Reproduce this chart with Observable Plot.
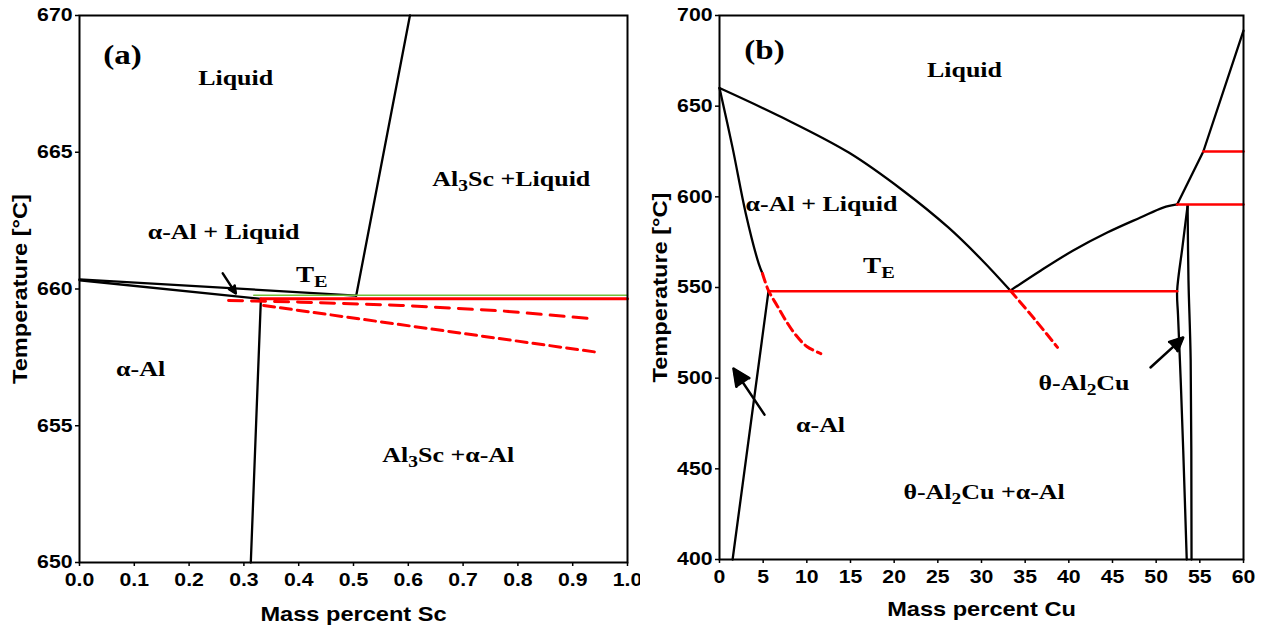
<!DOCTYPE html>
<html><head><meta charset="utf-8">
<script src="https://cdn.jsdelivr.net/npm/d3@7"></script>
<script src="https://cdn.jsdelivr.net/npm/@observablehq/plot@0.6"></script>
<style>
html,body{margin:0;padding:0;background:#fff;}
#wrap{display:flex;width:1275px;height:629px;overflow:hidden;background:#fff;}
#wrap svg{display:block;flex:none;}
</style></head><body><div id="wrap"></div>
<script>
// ---------- tick labels ----------
const scTicks = [0, 0.1, 0.2, 0.3, 0.4, 0.5, 0.6, 0.7, 0.8, 0.9, 1.0];
const tempTicksA = [650, 655, 660, 665, 670];
const cuTicks = [0, 5, 10, 15, 20, 25, 30, 35, 40, 45, 50, 55, 60];
const tempTicksB = [400, 450, 500, 550, 600, 650, 700];

// ---------- panel (a): Al-Sc  [mass % Sc, T °C] ----------
const scLiquidusAl = [[0, 660.35], [0.505, 659.76]];
const scSolidusAl = [[0, 660.32], [0.331, 659.64]];
const scLiquidusAl3Sc = [[0.505, 659.76], [0.603, 670]];
const scSolvus = [[0.331, 659.64], [0.3126, 650]];
const scEutecticGreen = [[0.318, 659.77], [1.0, 659.77]];
const scEutecticRed = [[0.331, 659.64], [1.0, 659.64]];
const scMetaUpper = [[0.272, 659.58], [0.404, 659.52], [0.587, 659.40], [0.77, 659.20], [0.931, 658.92]];
const scMetaLower = [[0.336, 659.40], [0.947, 657.68]];
const scArrows = [{x1: 0.2614, y1: 660.57, x2: 0.2852, y2: 659.84}];
const scTag = [{x: 0.0786, y: 668.54, text: "(a)"}];
const scRegions = [
  {x: 0.285, y: 667.7, text: "Liquid"},
  {x: 0.263, y: 662.07, text: "α-Al + Liquid"},
  {x: 0.788, y: 664.04, text: "Al_{3}Sc +Liquid"},
  {x: 0.1115, y: 657.06, text: "α-Al"},
  {x: 0.673, y: 653.93, text: "Al_{3}Sc +α-Al"}
];
const scTE = [{x: 0.424, y: 660.51, text: "T_{E}"}];

// ---------- panel (b): Al-Cu  [mass % Cu, T °C] ----------
const cuLiquidusAl = [[0, 660], [7.2, 643.7], [14.8, 624.4], [21.0, 603.5], [26.2, 583.1], [30.1, 564.9], [33.3, 548.3]];
const cuSolidusAl = [[0, 660], [1.5, 627], [3.0, 591], [4.5, 563], [4.92, 557.7]];
const cuSolvusAl = [[5.61, 548], [1.5, 400]];
const cuMetaSolidus = [[4.92, 557.7], [5.61, 548.3], [6.6, 540], [7.5, 532.5], [8.7, 524], [10.0, 517.5], [11.6, 513.5]];
const cuEutectic = [[5.61, 548], [52.4, 548]];
const cuMetaLiquidus = [[33.3, 548.3], [36.0, 533], [38.7, 517]];
const cuLiquidusTheta = [[33.3, 548.3], [36.8, 559.4], [40.5, 570.4], [44.4, 580.3], [48.2, 588.6], [50.8, 594.1], [52.4, 595.8]];
const cuLiquidusRight = [[52.4, 595.8], [55.4, 625], [60, 691.7]];
const cuPeritectic1 = [[52.4, 595.8], [60, 595.8]];
const cuPeritectic2 = [[55.4, 625], [60, 625]];
const cuThetaLeft = [[53.6, 595.2], [53.0, 572], [52.4, 548], [52.5, 535], [52.8, 500], [53.1, 460], [53.5, 400]];
const cuThetaRight = [[53.6, 595.2], [53.7, 554], [53.95, 510], [54.05, 400]];
const cuArrows = [
  {x1: 5.15, y1: 479.9, x2: 1.6, y2: 505.3},
  {x1: 49.35, y1: 505.9, x2: 53.1, y2: 522.4}
];
const cuTag = [{x: 5.15, y: 680.7, text: "(b)"}];
const cuRegions = [
  {x: 28.05, y: 669.7, text: "Liquid"},
  {x: 11.68, y: 596, text: "α-Al + Liquid"},
  {x: 11.57, y: 474.4, text: "α-Al"},
  {x: 41.74, y: 497.6, text: "θ-Al_{2}Cu"},
  {x: 30.3, y: 437.5, text: "θ-Al_{2}Cu +α-Al"}
];
const cuTE = [{x: 18.26, y: 562.1, text: "T_{E}"}];

// ---------- styling ----------
const SANS = "Liberation Sans, Arial, Helvetica, sans-serif";
const SERIF = "Liberation Serif, Times New Roman, serif";
const RED = "#ff0000";
const STRETCH = 1.18;

function axes(xTicks, yTicks, xFmt, xTitle, titleDy) {
  return [
    Plot.axisX({ticks: xTicks, tickFormat: xFmt, tickSize: 4, tickPadding: 7, fontSize: 18, fontWeight: "bold", strokeWidth: 1.5, label: null}),
    Plot.axisY({ticks: yTicks, tickFormat: d => String(d), tickSize: 4, tickPadding: 3, fontSize: 18, fontWeight: "bold", strokeWidth: 1.5, label: null}),
    Plot.text([xTitle], {frameAnchor: "bottom", textAnchor: "middle", lineAnchor: "bottom", dy: titleDy, fontSize: 20, fontWeight: "bold", fontFamily: SANS}),
    Plot.text(["Temperature [°C]"], {frameAnchor: "left", textAnchor: "middle", rotate: -90, dx: -59, fontSize: 20, fontWeight: "bold", fontFamily: SANS})
  ];
}
function labels(tag, regions, te) {
  return [
    Plot.text(tag, {x: "x", y: "y", text: "text", fontFamily: SERIF, fontWeight: "bold", fontSize: 28}),
    Plot.text(regions, {x: "x", y: "y", text: "text", fontFamily: SERIF, fontWeight: "bold", fontSize: 22}),
    Plot.text(te, {x: "x", y: "y", text: "text", fontFamily: SERIF, fontWeight: "bold", fontSize: 23})
  ];
}
const blk = {stroke: "black", strokeWidth: 2.3};
const blkCurve = {stroke: "black", strokeWidth: 2.3, curve: "catmull-rom"};

const plotA = Plot.plot({
  width: 640, height: 629,
  marginLeft: 79, marginRight: 13, marginTop: 15, marginBottom: 67,
  x: {domain: [0, 1]}, y: {domain: [650, 670]},
  style: {fontFamily: SANS, fontWeight: "bold", background: "white", color: "black", overflow: "visible"},
  marks: [
    ...axes(scTicks, tempTicksA, d3.format(".1f"), "Mass percent Sc", 58),
    Plot.line(scLiquidusAl, blk),
    Plot.line(scSolidusAl, blk),
    Plot.line(scLiquidusAl3Sc, blk),
    Plot.line(scSolvus, blk),
    Plot.line(scEutecticGreen, {stroke: "#72c03c", strokeWidth: 1.5}),
    Plot.line(scEutecticRed, {stroke: RED, strokeWidth: 3}),
    Plot.line(scMetaUpper, {stroke: RED, strokeWidth: 3, strokeDasharray: "14,9"}),
    Plot.line(scMetaLower, {stroke: RED, strokeWidth: 3, strokeDasharray: "11,6"}),
    Plot.arrow(scArrows, {x1: "x1", y1: "y1", x2: "x2", y2: "y2", stroke: "black", strokeWidth: 2.5, headLength: 11, headAngle: 50}),
    ...labels(scTag, scRegions, scTE),
    Plot.frame({stroke: "black", strokeWidth: 2})
  ]
});

const plotB = Plot.plot({
  width: 635, height: 629,
  marginLeft: 79, marginRight: 32, marginTop: 15, marginBottom: 70,
  x: {domain: [0, 60]}, y: {domain: [400, 700]},
  style: {fontFamily: SANS, fontWeight: "bold", background: "white", color: "black", overflow: "visible"},
  marks: [
    ...axes(cuTicks, tempTicksB, d => String(d), "Mass percent Cu", 56),
    Plot.line(cuLiquidusAl, blkCurve),
    Plot.line(cuSolidusAl, blkCurve),
    Plot.line(cuSolvusAl, blk),
    Plot.line(cuLiquidusTheta, blkCurve),
    Plot.line(cuLiquidusRight, blk),
    Plot.line(cuThetaLeft, blkCurve),
    Plot.line(cuThetaRight, blkCurve),
    Plot.line(cuEutectic, {stroke: RED, strokeWidth: 2.5}),
    Plot.line(cuPeritectic1, {stroke: RED, strokeWidth: 2.5}),
    Plot.line(cuPeritectic2, {stroke: RED, strokeWidth: 2.5}),
    Plot.line(cuMetaSolidus, {stroke: RED, strokeWidth: 3, strokeDasharray: "9,5", curve: "catmull-rom"}),
    Plot.line(cuMetaLiquidus, {stroke: RED, strokeWidth: 3, strokeDasharray: "9,5", curve: "catmull-rom"}),
    Plot.arrow(cuArrows, {x1: "x1", y1: "y1", x2: "x2", y2: "y2", stroke: "black", strokeWidth: 2.5, headLength: 12, headAngle: 50}),
    ...labels(cuTag, cuRegions, cuTE),
    Plot.frame({stroke: "black", strokeWidth: 2})
  ]
});

const NS = "http://www.w3.org/2000/svg";
function subscripts(svg) {
  svg.querySelectorAll("text").forEach(t => {
    if (t.children.length) return;
    const s = t.textContent;
    if (!s.includes("_{")) return;
    t.textContent = "";
    const re = /_\{([^}]*)\}/g;
    let last = 0, m, lowered = false;
    const add = (txt, sub) => {
      const ts = document.createElementNS(NS, "tspan");
      ts.textContent = txt;
      if (sub) { ts.setAttribute("font-size", "0.75em"); ts.setAttribute("dy", "5"); }
      else if (lowered) ts.setAttribute("dy", "-5");
      lowered = sub;
      t.appendChild(ts);
    };
    while ((m = re.exec(s))) {
      if (m.index > last) add(s.slice(last, m.index), false);
      add(m[1], true);
      last = re.lastIndex;
    }
    if (last < s.length) add(s.slice(last), false);
  });
}
function stretch(svg) {
  svg.querySelectorAll("text").forEach(t => {
    const ax = parseFloat(t.getAttribute("x")) || 0;
    const tr = t.getAttribute("transform") || "";
    t.setAttribute("transform", `${tr} translate(${ax},0) scale(${STRETCH},1) translate(${-ax},0)`);
  });
}
// fill the arrow heads (Plot draws them as open chevrons)
function fillHeads(svg) {
  svg.querySelectorAll('g[aria-label="arrow"] path').forEach(p => {
    const n = (p.getAttribute("d") || "").match(/-?\d*\.?\d+(?:e-?\d+)?/g);
    if (!n || n.length < 10) return;
    const v = n.slice(-6).map(Number);
    const tri = document.createElementNS(NS, "path");
    tri.setAttribute("d", `M${v[0]},${v[1]}L${v[2]},${v[3]}L${v[4]},${v[5]}Z`);
    tri.setAttribute("fill", "black");
    tri.setAttribute("stroke", "black");
    tri.setAttribute("stroke-width", "1.5");
    tri.setAttribute("stroke-linejoin", "miter");
    if (p.getAttribute("transform")) tri.setAttribute("transform", p.getAttribute("transform"));
    p.parentNode.appendChild(tri);
  });
}
for (const p of [plotA, plotB]) { subscripts(p); stretch(p); fillHeads(p); }
const wrap = document.getElementById("wrap");
wrap.appendChild(plotA);
wrap.appendChild(plotB);
</script>
</body></html>
